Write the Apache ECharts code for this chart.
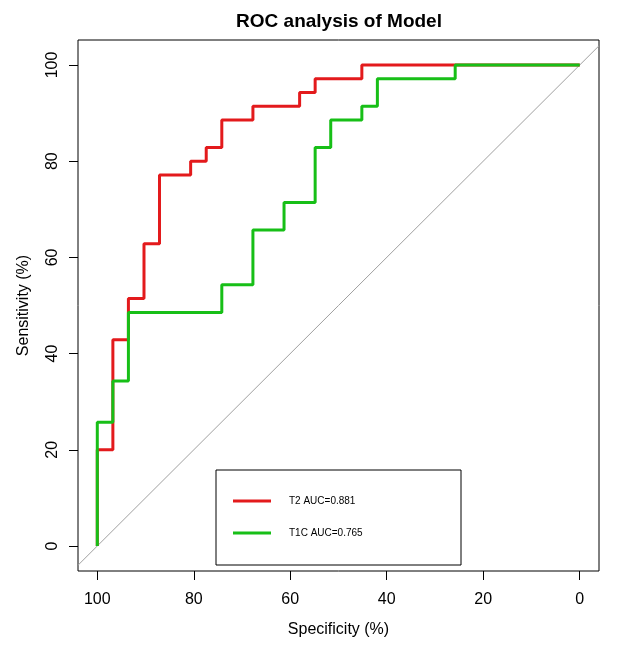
<!DOCTYPE html>
<html>
<head>
<meta charset="utf-8">
<script src="https://cdn.jsdelivr.net/npm/echarts@6/dist/echarts.min.js"></script>
<style>
html,body{margin:0;padding:0;background:#fff;}
#chart{width:639px;height:650px;}
</style>
</head>
<body>
<div id="chart"></div>
<script>
// ROC coordinates (specificity %, sensitivity %)
const t2Spec = [100, 100, 96.77, 96.77, 93.55, 93.55, 90.32, 90.32, 87.10, 87.10, 80.65, 80.65, 77.42, 77.42, 74.19, 74.19, 67.74, 67.74, 58.06, 58.06, 54.84, 54.84, 45.16, 45.16, 0];
const t2Sens = [0, 20, 20, 42.86, 42.86, 51.43, 51.43, 62.86, 62.86, 77.14, 77.14, 80, 80, 82.86, 82.86, 88.57, 88.57, 91.43, 91.43, 94.29, 94.29, 97.14, 97.14, 100, 100];
const t1cSpec = [100, 100, 96.77, 96.77, 93.55, 93.55, 74.19, 74.19, 67.74, 67.74, 61.29, 61.29, 54.84, 54.84, 51.61, 51.61, 45.16, 45.16, 41.94, 41.94, 25.81, 25.81, 0];
const t1cSens = [0, 25.71, 25.71, 34.29, 34.29, 48.57, 48.57, 54.29, 54.29, 65.71, 65.71, 71.43, 71.43, 82.86, 82.86, 88.57, 88.57, 91.43, 91.43, 97.14, 97.14, 100, 100];
const seriesNames = ['T2 AUC=0.881', 'T1C AUC=0.765'];
const tickValues = [0, 20, 40, 60, 80, 100];

const xMin = -4, xMax = 104;
const yMin = -5.2, yMax = 105.2;

const zip = (a, b) => a.map((v, i) => [v, b[i]]);
const diag = [[xMax, 100 - xMax], [xMin, 100 - xMin]];

const font = 'Liberation Sans, Arial, sans-serif';
const chart = echarts.init(document.getElementById('chart'), null, {renderer: 'canvas'});
chart.setOption({
  animation: false,
  backgroundColor: '#ffffff',
  title: {
    text: 'ROC analysis of Model',
    left: 334,
    textAlign: 'center',
    top: 7,
    textStyle: {fontFamily: font, fontSize: 19, fontWeight: 'bold', color: '#000'}
  },
  grid: {
    left: 78, right: 40, top: 40, bottom: 79,
    show: true, borderColor: '#000', borderWidth: 1, backgroundColor: 'transparent'
  },
  legend: {
    orient: 'vertical',
    left: 216, top: 470,
    padding: [24, 0, 25, 17],
    itemGap: 18,
    itemWidth: 38, itemHeight: 3,
    icon: 'rect',
    borderColor: '#000', borderWidth: 1,
    data: seriesNames,
    textStyle: {fontFamily: font, fontSize: 10, color: '#000', lineHeight: 14, width: 172, padding: [0, 0, 0, 13]}
  },
  xAxis: {
    type: 'value', inverse: true, min: xMin, max: xMax,
    name: 'Specificity (%)', nameLocation: 'middle', nameGap: 51,
    nameTextStyle: {fontFamily: font, fontSize: 16, color: '#000'},
    splitLine: {show: false},
    axisLine: {show: false, onZero: false},
    axisTick: {show: true, inside: false, length: 9, customValues: tickValues, lineStyle: {color: '#000', width: 1}},
    axisLabel: {customValues: tickValues, margin: 21, fontFamily: font, fontSize: 16, color: '#000'}
  },
  yAxis: {
    type: 'value', min: yMin, max: yMax,
    name: 'Sensitivity (%)', nameLocation: 'middle', nameGap: 46,
    nameTextStyle: {fontFamily: font, fontSize: 16, color: '#000'},
    splitLine: {show: false},
    axisLine: {show: false, onZero: false},
    axisTick: {show: true, inside: false, length: 9, customValues: tickValues, lineStyle: {color: '#000', width: 1}},
    axisLabel: {customValues: tickValues, rotate: 90, margin: 17, fontFamily: font, fontSize: 16, color: '#000'}
  },
  series: [
    {
      type: 'line', name: 'diag', data: diag, symbol: 'none', silent: true,
      lineStyle: {color: '#a0a0a0', width: 1}, z: 1
    },
    {
      type: 'line', name: seriesNames[0], data: zip(t2Spec, t2Sens), symbol: 'none',
      color: '#e31a1c', lineStyle: {color: '#e31a1c', width: 3}, z: 2
    },
    {
      type: 'line', name: seriesNames[1], data: zip(t1cSpec, t1cSens), symbol: 'none',
      color: '#17bf17', lineStyle: {color: '#17bf17', width: 3}, z: 3
    }
  ]
});
</script>
</body>
</html>
